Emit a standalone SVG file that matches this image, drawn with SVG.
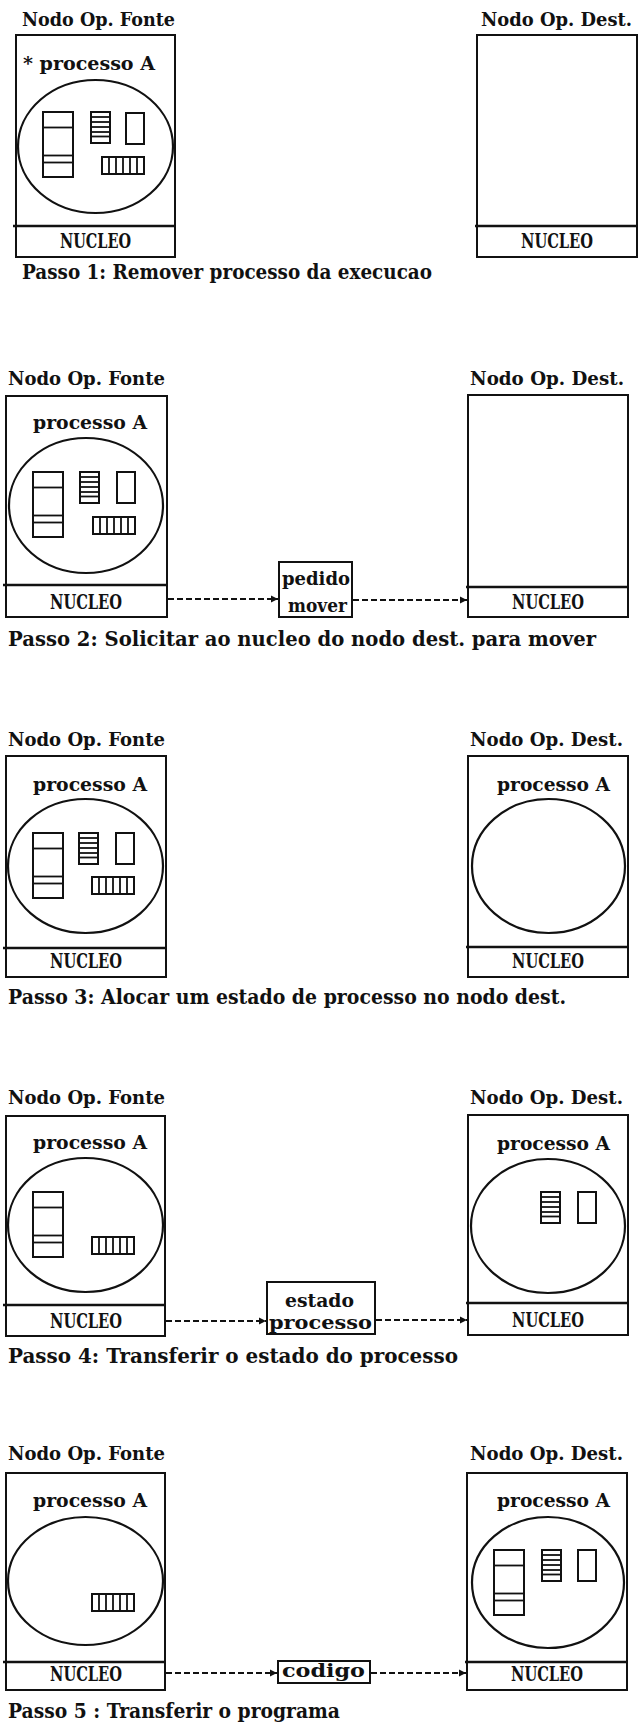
<svg xmlns="http://www.w3.org/2000/svg" xmlns:xlink="http://www.w3.org/1999/xlink" width="638" height="1729" viewBox="0 0 638 1729">
  <style>
    text { font-family: "DejaVu Serif", "Liberation Serif", serif; font-weight: bold; fill: #111; }
    .title { font-size: 19px; }
    .proc { font-size: 18.5px; }
    .kern { font-size: 21px; }
    .msg { font-size: 18px; }
    .cap { font-size: 20px; }
    .box { fill: none; stroke: #111; stroke-width: 2; }
    .div { stroke: #111; stroke-width: 2.6; }
    .space { fill: none; stroke: #111; stroke-width: 2.2; }
    .ico { fill: none; stroke: #111; stroke-width: 2; }
    .ico line { stroke: #111; stroke-width: 1.8; }
    .link { fill: none; stroke: #111; stroke-width: 2; stroke-dasharray: 6 3; }
  </style>
  <defs>
    <marker id="head" markerUnits="userSpaceOnUse" markerWidth="8" markerHeight="8" refX="7" refY="4" orient="auto">
      <path d="M0,0.5 L7,4 L0,7.5 z" fill="#111"/>
    </marker>
    <!-- stack segment: code / data / heap -->
    <g id="stack" class="ico">
      <rect x="0" y="0" width="30" height="65"/>
      <line x1="0" y1="15.5" x2="30" y2="15.5"/>
      <line x1="0" y1="43.5" x2="30" y2="43.5"/>
      <line x1="0" y1="50.5" x2="30" y2="50.5"/>
    </g>
    <!-- register file -->
    <g id="regs" class="ico">
      <rect x="0" y="0" width="19" height="31"/>
      <line x1="0" y1="5" x2="19" y2="5"/>
      <line x1="0" y1="10" x2="19" y2="10"/>
      <line x1="0" y1="15" x2="19" y2="15"/>
      <line x1="0" y1="20" x2="19" y2="20"/>
      <line x1="0" y1="24.5" x2="19" y2="24.5"/>
    </g>
    <g id="block" class="ico">
      <rect x="0" y="0" width="18" height="31"/>
    </g>
    <!-- message queue -->
    <g id="queue" class="ico">
      <rect x="0" y="0" width="42" height="17"/>
      <line x1="7" y1="0" x2="7" y2="17"/>
      <line x1="14" y1="0" x2="14" y2="17"/>
      <line x1="21" y1="0" x2="21" y2="17"/>
      <line x1="28" y1="0" x2="28" y2="17"/>
      <line x1="35" y1="0" x2="35" y2="17"/>
    </g>
  </defs>

  <!-- ===== Passo 1 ===== -->
  <g id="s1-fonte">
    <text class="title" x="22" y="26" textLength="153" lengthAdjust="spacingAndGlyphs">Nodo Op. Fonte</text>
    <rect class="box" x="16" y="35" width="159" height="222"/>
    <line class="div" x1="13" y1="226" x2="175" y2="226"/>
    <text class="proc" x="23" y="70" textLength="132" lengthAdjust="spacingAndGlyphs">* processo A</text>
    <ellipse class="space" cx="95.5" cy="146.5" rx="77.5" ry="66.5"/>
    <use xlink:href="#stack" x="43" y="112"/>
    <use xlink:href="#regs" x="91" y="112"/>
    <use xlink:href="#block" x="126" y="113"/>
    <use xlink:href="#queue" x="102" y="157"/>
    <text class="kern" x="60" y="248" textLength="71" lengthAdjust="spacingAndGlyphs">NUCLEO</text>
  </g>
  <g id="s1-dest">
    <text class="title" x="481" y="26" textLength="151" lengthAdjust="spacingAndGlyphs">Nodo Op. Dest.</text>
    <rect class="box" x="477" y="35" width="160" height="222"/>
    <line class="div" x1="475" y1="226" x2="637" y2="226"/>
    <text class="kern" x="521" y="248" textLength="72" lengthAdjust="spacingAndGlyphs">NUCLEO</text>
  </g>
  <text id="cap1" class="cap" x="22" y="279" textLength="410" lengthAdjust="spacingAndGlyphs">Passo 1: Remover processo da execucao</text>

  <!-- ===== Passo 2 ===== -->
  <g id="s2-fonte">
    <text class="title" x="8" y="385" textLength="157" lengthAdjust="spacingAndGlyphs">Nodo Op. Fonte</text>
    <rect class="box" x="6" y="396" width="161" height="221"/>
    <line class="div" x1="3" y1="585" x2="167" y2="585"/>
    <text class="proc" x="33" y="429" textLength="114" lengthAdjust="spacingAndGlyphs">processo A</text>
    <ellipse class="space" cx="86" cy="505.5" rx="77" ry="67.5"/>
    <use xlink:href="#stack" x="33" y="472"/>
    <use xlink:href="#regs" x="80" y="472"/>
    <use xlink:href="#block" x="117" y="472"/>
    <use xlink:href="#queue" x="93" y="517"/>
    <text class="kern" x="50" y="609" textLength="72" lengthAdjust="spacingAndGlyphs">NUCLEO</text>
  </g>
  <g id="s2-dest">
    <text class="title" x="470" y="385" textLength="154" lengthAdjust="spacingAndGlyphs">Nodo Op. Dest.</text>
    <rect class="box" x="468" y="395" width="160" height="222"/>
    <line class="div" x1="466" y1="587" x2="628" y2="587"/>
    <text class="kern" x="512" y="609" textLength="72" lengthAdjust="spacingAndGlyphs">NUCLEO</text>
  </g>
  <g id="s2-msg">
    <rect class="box" x="279" y="562" width="73" height="55"/>
    <text class="msg" x="282" y="585" textLength="68" lengthAdjust="spacingAndGlyphs">pedido</text>
    <text class="msg" x="288" y="612" textLength="59" lengthAdjust="spacingAndGlyphs">mover</text>
  </g>
  <text id="cap2" class="cap" x="8" y="646" textLength="588" lengthAdjust="spacingAndGlyphs">Passo 2: Solicitar ao nucleo do nodo dest. para mover</text>

  <!-- ===== Passo 3 ===== -->
  <g id="s3-fonte">
    <text class="title" x="8" y="746" textLength="157" lengthAdjust="spacingAndGlyphs">Nodo Op. Fonte</text>
    <rect class="box" x="6" y="756" width="160" height="221"/>
    <line class="div" x1="3" y1="948" x2="166" y2="948"/>
    <text class="proc" x="33" y="791" textLength="114" lengthAdjust="spacingAndGlyphs">processo A</text>
    <ellipse class="space" cx="85.5" cy="866" rx="77.5" ry="67"/>
    <use xlink:href="#stack" x="33" y="833"/>
    <use xlink:href="#regs" x="79" y="833"/>
    <use xlink:href="#block" x="116" y="833"/>
    <use xlink:href="#queue" x="92" y="877"/>
    <text class="kern" x="50" y="968" textLength="72" lengthAdjust="spacingAndGlyphs">NUCLEO</text>
  </g>
  <g id="s3-dest">
    <text class="title" x="470" y="746" textLength="153" lengthAdjust="spacingAndGlyphs">Nodo Op. Dest.</text>
    <rect class="box" x="468" y="756" width="160" height="221"/>
    <line class="div" x1="466" y1="947" x2="628" y2="947"/>
    <text class="proc" x="497" y="791" textLength="113" lengthAdjust="spacingAndGlyphs">processo A</text>
    <ellipse class="space" cx="548.5" cy="866" rx="76.5" ry="67"/>
    <text class="kern" x="512" y="968" textLength="72" lengthAdjust="spacingAndGlyphs">NUCLEO</text>
  </g>
  <text id="cap3" class="cap" x="8" y="1004" textLength="558" lengthAdjust="spacingAndGlyphs">Passo 3: Alocar um estado de processo no nodo dest.</text>

  <!-- ===== Passo 4 ===== -->
  <g id="s4-fonte">
    <text class="title" x="8" y="1104" textLength="157" lengthAdjust="spacingAndGlyphs">Nodo Op. Fonte</text>
    <rect class="box" x="6" y="1116" width="159" height="220"/>
    <line class="div" x1="3" y1="1305" x2="165" y2="1305"/>
    <text class="proc" x="33" y="1149" textLength="114" lengthAdjust="spacingAndGlyphs">processo A</text>
    <ellipse class="space" cx="85.5" cy="1225" rx="77.5" ry="67"/>
    <use xlink:href="#stack" x="33" y="1192"/>
    <use xlink:href="#queue" x="92" y="1237"/>
    <text class="kern" x="50" y="1328" textLength="72" lengthAdjust="spacingAndGlyphs">NUCLEO</text>
  </g>
  <g id="s4-dest">
    <text class="title" x="470" y="1104" textLength="153" lengthAdjust="spacingAndGlyphs">Nodo Op. Dest.</text>
    <rect class="box" x="468" y="1115" width="160" height="220"/>
    <line class="div" x1="466" y1="1303" x2="628" y2="1303"/>
    <text class="proc" x="497" y="1150" textLength="113" lengthAdjust="spacingAndGlyphs">processo A</text>
    <ellipse class="space" cx="548" cy="1226" rx="77" ry="67"/>
    <use xlink:href="#regs" x="541" y="1192"/>
    <use xlink:href="#block" x="578" y="1192"/>
    <text class="kern" x="512" y="1327" textLength="72" lengthAdjust="spacingAndGlyphs">NUCLEO</text>
  </g>
  <g id="s4-msg">
    <rect class="box" x="267" y="1282" width="108" height="52"/>
    <text class="msg" x="285" y="1307" textLength="69" lengthAdjust="spacingAndGlyphs">estado</text>
    <text class="msg" x="269" y="1329" textLength="103" lengthAdjust="spacingAndGlyphs">processo</text>
  </g>
  <text id="cap4" class="cap" x="8" y="1363" textLength="450" lengthAdjust="spacingAndGlyphs">Passo 4: Transferir o estado do processo</text>

  <!-- ===== Passo 5 ===== -->
  <g id="s5-fonte">
    <text class="title" x="8" y="1460" textLength="157" lengthAdjust="spacingAndGlyphs">Nodo Op. Fonte</text>
    <rect class="box" x="6" y="1473" width="159" height="217"/>
    <line class="div" x1="3" y1="1662" x2="165" y2="1662"/>
    <text class="proc" x="33" y="1507" textLength="114" lengthAdjust="spacingAndGlyphs">processo A</text>
    <ellipse class="space" cx="85.5" cy="1581" rx="77.5" ry="64"/>
    <use xlink:href="#queue" x="92" y="1594"/>
    <text class="kern" x="50" y="1681" textLength="72" lengthAdjust="spacingAndGlyphs">NUCLEO</text>
  </g>
  <g id="s5-dest">
    <text class="title" x="470" y="1460" textLength="153" lengthAdjust="spacingAndGlyphs">Nodo Op. Dest.</text>
    <rect class="box" x="467" y="1473" width="160" height="217"/>
    <line class="div" x1="465" y1="1662" x2="627" y2="1662"/>
    <text class="proc" x="497" y="1507" textLength="113" lengthAdjust="spacingAndGlyphs">processo A</text>
    <ellipse class="space" cx="548" cy="1582.5" rx="76" ry="65.5"/>
    <use xlink:href="#stack" x="494" y="1550"/>
    <use xlink:href="#regs" x="542" y="1550"/>
    <use xlink:href="#block" x="578" y="1550"/>
    <text class="kern" x="511" y="1681" textLength="72" lengthAdjust="spacingAndGlyphs">NUCLEO</text>
  </g>
  <g id="s5-msg">
    <rect class="box" x="278" y="1661" width="92" height="22"/>
    <text class="msg" x="282" y="1677" textLength="83" lengthAdjust="spacingAndGlyphs">codigo</text>
  </g>
  <text id="cap5" class="cap" x="8" y="1718" textLength="332" lengthAdjust="spacingAndGlyphs">Passo 5 : Transferir o programa</text>

  <!-- dashed transfer arrows between kernels -->
  <g id="connectors">
    <line class="link" x1="168" y1="599" x2="278" y2="599" marker-end="url(#head)"/>
    <line class="link" x1="353" y1="600" x2="467" y2="600" marker-end="url(#head)"/>
    <line class="link" x1="166" y1="1321" x2="266" y2="1321" marker-end="url(#head)"/>
    <line class="link" x1="376" y1="1320" x2="467" y2="1320" marker-end="url(#head)"/>
    <line class="link" x1="166" y1="1673" x2="277" y2="1673" marker-end="url(#head)"/>
    <line class="link" x1="371" y1="1673" x2="466" y2="1673" marker-end="url(#head)"/>
  </g>
</svg>
